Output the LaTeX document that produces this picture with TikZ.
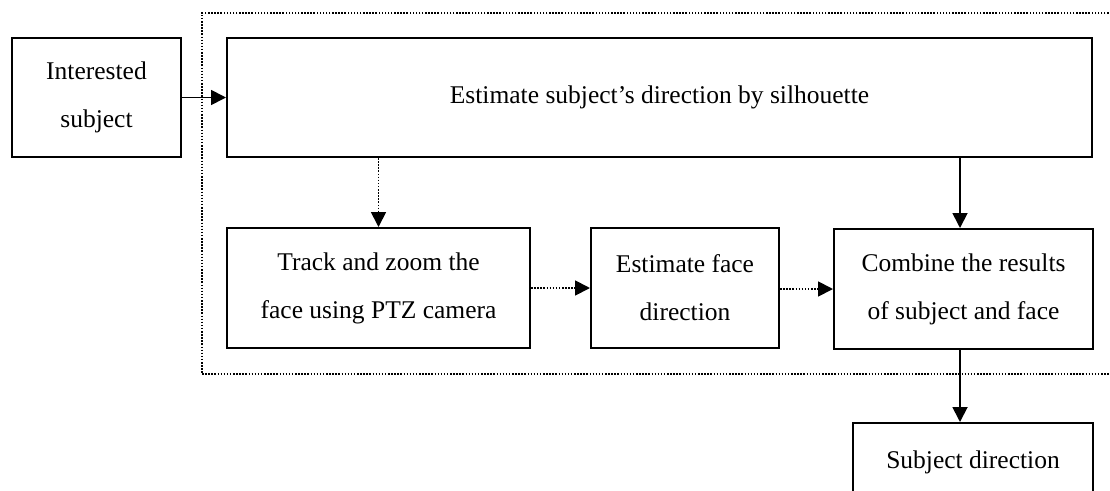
\documentclass[tikz,border=0pt]{standalone}
\usepackage{fontspec}
\setmainfont{Liberation Serif}
\usetikzlibrary{arrows.meta,fit,positioning}
\tikzset{
  stage/.style={
    draw=black,
    line width=2pt,
    minimum height=120pt,
    inner sep=0pt,
    align=center,
    font=\fontsize{25.5}{48}\selectfont
  },
  arrow/.style={-{Triangle[length=15pt,width=15pt]},line width=1.8pt},
  dotarrow/.style={arrow,dash pattern=on 1.5pt off 1.6pt},
  faint/.style={draw=black,line width=1.8pt,dash pattern=on 1.5pt off 1.6pt,inner sep=24pt}
}

\begin{document}
\begin{tikzpicture}[x=1pt,y=-1pt]
  \useasboundingbox (0,0) rectangle (1110,490);
  \clip (0,0) rectangle (1110,490);

  \node[stage, minimum width=169pt, minimum height=119pt] (subj) at (96.5,97.5) {Interested\\subject};
  \node[stage, minimum width=865pt, minimum height=119pt] (est) at (659.5,97.5) {Estimate subject’s direction by silhouette};
  \node[stage, minimum width=303pt] (track) at (378.5,288) {Track and zoom the\\face using PTZ camera};
  \node[stage, minimum width=188pt] (face) at (685,288) {Estimate face\\direction};
  \node[stage, minimum width=259pt] (comb) at (963.5,289) {Combine the results\\of subject and face};
  \node[stage, minimum width=240pt, minimum height=0pt, anchor=north, text height=45pt, text depth=75pt] (dir) at (973,422) {Subject direction};

  \draw[arrow] (subj) -- (est);
  \draw[dotarrow] (track.north |- est.south) -- (track.north);
  \draw[arrow] ([xshift=-3.5pt]comb.north |- est.south) -- ([xshift=-3.5pt]comb.north);
  \draw[dotarrow] (track) -- (face);
  \draw[dotarrow] (face.east |- comb.west) -- (comb.west);
  \draw[arrow] ([xshift=-3.5pt]comb.south) -- ([xshift=-3.5pt]comb.south |- dir.north);

  \node[faint,fit=(est)(track)(face)(comb)] (loop) {};
\end{tikzpicture}
\end{document}
